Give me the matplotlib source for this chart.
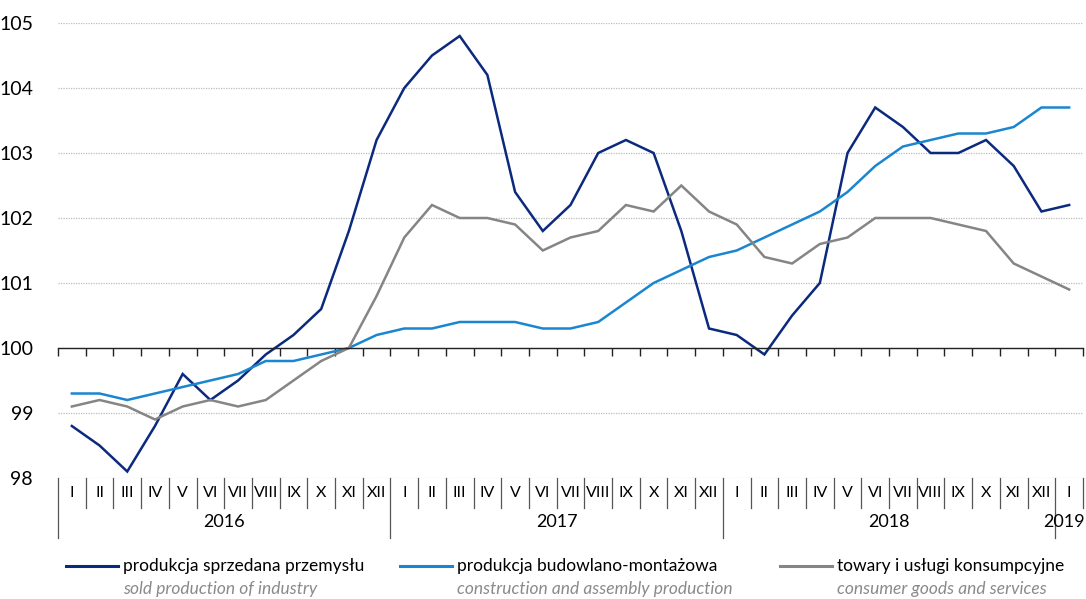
import matplotlib
matplotlib.use("Agg")
import matplotlib.pyplot as plt
from matplotlib.lines import Line2D

# --- data ---
months = ["I", "II", "III", "IV", "V", "VI", "VII", "VIII", "IX", "X", "XI", "XII"] * 3 + ["I"]
years = ["2016", "2017", "2018", "2019"]

industry = [98.8, 98.5, 98.1, 98.8, 99.6, 99.2, 99.5, 99.9, 100.2, 100.6, 101.8, 103.2,
            104.0, 104.5, 104.8, 104.2, 102.4, 101.8, 102.2, 103.0, 103.2, 103.0, 101.8, 100.3,
            100.2, 99.9, 100.5, 101.0, 103.0, 103.7, 103.4, 103.0, 103.0, 103.2, 102.8, 102.1,
            102.2]
construction = [99.3, 99.3, 99.2, 99.3, 99.4, 99.5, 99.6, 99.8, 99.8, 99.9, 100.0, 100.2,
                100.3, 100.3, 100.4, 100.4, 100.4, 100.3, 100.3, 100.4, 100.7, 101.0, 101.2, 101.4,
                101.5, 101.7, 101.9, 102.1, 102.4, 102.8, 103.1, 103.2, 103.3, 103.3, 103.4, 103.7,
                103.7]
consumer = [99.1, 99.2, 99.1, 98.9, 99.1, 99.2, 99.1, 99.2, 99.5, 99.8, 100.0, 100.8,
            101.7, 102.2, 102.0, 102.0, 101.9, 101.5, 101.7, 101.8, 102.2, 102.1, 102.5, 102.1,
            101.9, 101.4, 101.3, 101.6, 101.7, 102.0, 102.0, 102.0, 101.9, 101.8, 101.3, 101.1,
            100.9]

series = [
    (industry, "#0b2a7e", "produkcja sprzedana przemysłu", "sold production of industry"),
    (construction, "#1a86d0", "produkcja budowlano-montażowa", "construction and assembly production"),
    (consumer, "#858585", "towary i usługi konsumpcyjne", "consumer goods and services"),
]

plt.rcParams["font.family"] = ["Lato", "DejaVu Sans"]

fig = plt.figure(figsize=(10.86, 5.99), dpi=100)
ax = fig.add_axes([58 / 1086, 1 - 478 / 599, 1025 / 1086, 455 / 599])

n = len(months)
x = list(range(n))
for vals, col, _, _ in series:
    ax.plot(x, vals, color=col, lw=1.8, solid_joinstyle="miter")

ax.set_xlim(-0.5, n - 0.5)
ax.set_ylim(98, 105)
ax.set_yticks(range(98, 106))
ax.tick_params(axis="y", length=0, labelsize=14, pad=18)
ax.grid(axis="y", color="#bdbdbd", ls=(0, (1, 1)), lw=0.9)
ax.set_axisbelow(True)

for s in ["left", "right", "top"]:
    ax.spines[s].set_visible(False)
ax.spines["bottom"].set_position(("data", 100))
ax.spines["bottom"].set_color("#222222")
ax.spines["bottom"].set_linewidth(1.0)
ax.set_xticks([i - 0.5 for i in range(n + 1)])
ax.set_xticklabels([])
ax.tick_params(axis="x", direction="out", length=6, width=1.0, color="#222222")

tr = ax.get_xaxis_transform()
h = 455.0
for i, m in enumerate(months):
    ax.text(i, -15 / h, m, transform=tr, ha="center", va="center", fontsize=11.5,
            clip_on=False)
for i in range(n + 1):
    year_sep = (i % 12 == 0) and i < n
    y0 = -60 / h if year_sep else -30 / h
    ax.add_line(Line2D([i - 0.5, i - 0.5], [0, y0], transform=tr, color="#555555",
                       lw=0.9, clip_on=False))
for k, yr in enumerate(years):
    if k < 3:
        ax.text(k * 12 + 5.5, -44 / h, yr, transform=tr, ha="center", va="center",
                fontsize=13, clip_on=False)
    else:
        ax.text(n - 0.45, -44 / h, yr, transform=tr, ha="right", va="center",
                fontsize=13, clip_on=False)

# legend
leg_x = [66, 400, 780]
for (vals, col, pl, en), lx in zip(series, leg_x):
    fig.add_artist(Line2D([lx / 1086, (lx + 52) / 1086], [1 - 566 / 599] * 2,
                          color=col, lw=2.2, transform=fig.transFigure))
    fig.text((lx + 57) / 1086, 1 - 566 / 599, pl, ha="left", va="center", fontsize=12.5)
    fig.text((lx + 57) / 1086, 1 - 589 / 599, en, ha="left", va="center", fontsize=12.5,
             style="italic", color="#8a8a8a")

fig.savefig("out.png", dpi=100)
